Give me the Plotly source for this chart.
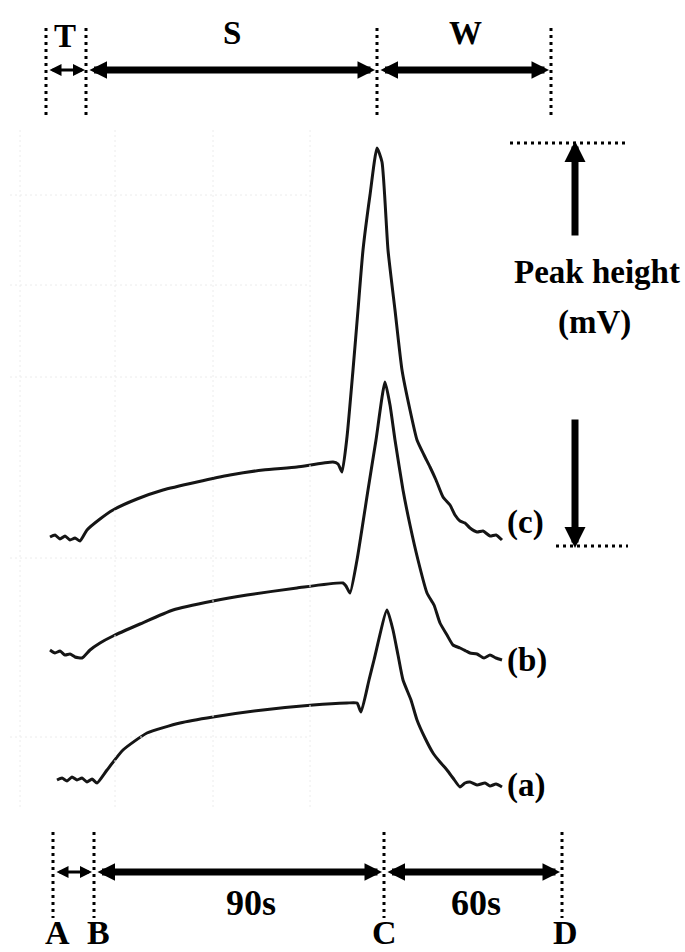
import plotly.graph_objects as go

# ---------------- data (picture coordinates) ----------------
trace_c_x = [50, 55, 60, 65, 70, 75, 80, 87, 100, 113, 137, 163, 197, 230, 263, 297, 333, 338, 342, 347,
             353, 358, 363, 370, 377, 382, 388, 395, 402, 410, 417, 424, 430, 436, 443, 450, 455, 460,
             465, 470, 477, 483, 490, 496, 502]
trace_c_y = [537, 535, 539, 536, 540, 538, 541, 530, 519, 510, 499, 490, 482, 475, 470, 467, 462, 464, 472, 437,
             370, 310, 250, 195, 148, 162, 250, 310, 370, 410, 440, 455, 467, 480, 497, 505, 515, 521,
             523, 528, 532, 531, 536, 535, 540]

trace_b_x = [50, 55, 60, 65, 70, 75, 82, 90, 100, 113, 140, 173, 213, 247, 297, 343, 346, 350, 357, 368,
             376, 385, 390, 395, 403, 410, 418, 427, 434, 440, 447, 453, 460, 466, 470, 477, 484, 490, 496, 502]
trace_b_y = [650, 653, 651, 655, 654, 657, 658, 650, 643, 636, 624, 610, 601, 595, 588, 583, 586, 593, 560, 490,
             440, 382, 405, 440, 490, 525, 560, 593, 605, 623, 635, 645, 648, 651, 653, 654, 658, 655, 658, 660]

trace_a_x = [57, 62, 67, 72, 77, 82, 87, 92, 97, 107, 123, 147, 180, 213, 263, 313, 347, 357, 361, 369,
             374, 387, 393, 398, 403, 411, 417, 425, 433, 440, 447, 453, 460, 465, 470, 477, 485, 490, 496, 502]
trace_a_y = [780, 778, 781, 777, 780, 778, 782, 779, 783, 770, 750, 733, 723, 717, 710, 705, 703, 703, 712, 680,
             660, 610, 630, 655, 680, 700, 720, 738, 753, 762, 770, 778, 787, 783, 782, 785, 783, 786, 784, 787]

trace_labels = ["(c)", "(b)", "(a)"]
phase_labels = ["T", "S", "W"]
time_labels = ["90s", "60s"]
point_labels = ["A", "B", "C", "D"]
peak_label = ["Peak height", "(mV)"]

# ---------------- figure ----------------
INK = "#151515"
FONT = "Liberation Serif, Times New Roman, serif"

fig = go.Figure()
for xs, ys in [(trace_c_x, trace_c_y), (trace_b_x, trace_b_y), (trace_a_x, trace_a_y)]:
    fig.add_trace(go.Scatter(x=xs, y=ys, mode="lines",
                             line=dict(color=INK, width=3, shape="spline", smoothing=0.5),
                             hoverinfo="skip", showlegend=False))

shapes = []
# faint graph-paper lines
for gx in [20, 115, 213, 310]:
    shapes.append(dict(type="line", x0=gx, x1=gx, y0=130, y1=810,
                       line=dict(color="#ececec", width=1, dash="2px,3px")))
for gy in [195, 285, 377, 558, 737]:
    shapes.append(dict(type="line", x0=10, x1=310, y0=gy, y1=gy,
                       line=dict(color="#ececec", width=1, dash="2px,3px")))

dot = dict(color="black", width=3, dash="3px,4px")
for vx in [46, 86, 377, 551]:
    shapes.append(dict(type="line", x0=vx, x1=vx, y0=28, y1=116, line=dot))
for vx in [53, 94, 384, 562]:
    shapes.append(dict(type="line", x0=vx, x1=vx, y0=832, y1=918, line=dot))
shapes.append(dict(type="line", x0=510, x1=628, y0=143, y1=143, line=dot))
shapes.append(dict(type="line", x0=556, x1=628, y0=546, y1=546, line=dot))

annotations = []


def double_arrow(x0, x1, y, w=7, s=0.5):
    annotations.append(dict(x=x1, y=y, ax=x0, ay=y, xref="x", yref="y", axref="x", ayref="y",
                            text="", showarrow=True, arrowside="end+start",
                            arrowhead=2, startarrowhead=2, arrowsize=s, startarrowsize=s,
                            arrowwidth=w, arrowcolor="black", standoff=0, startstandoff=0))


double_arrow(48, 85, 70, w=3, s=0.8)
double_arrow(88, 375, 70)
double_arrow(379, 549, 70)
double_arrow(55, 92, 872, w=3, s=0.8)
double_arrow(96, 382, 872)
double_arrow(386, 560, 872)

# peak-height arrows
annotations.append(dict(x=575, y=141, ax=575, ay=237, xref="x", yref="y", axref="x", ayref="y",
                        text="", showarrow=True, arrowhead=2, arrowsize=0.6, arrowwidth=7,
                        arrowcolor="black", standoff=0))
annotations.append(dict(x=575, y=548, ax=575, ay=418, xref="x", yref="y", axref="x", ayref="y",
                        text="", showarrow=True, arrowhead=2, arrowsize=0.6, arrowwidth=7,
                        arrowcolor="black", standoff=0))


def label(txt, x, y, size, xanchor="center"):
    annotations.append(dict(x=x, y=y, xref="x", yref="y", text=txt, showarrow=False,
                            xanchor=xanchor, yanchor="middle",
                            font=dict(family=FONT, size=size, color="black", weight="bold")))


for txt, x, y in zip(phase_labels, [65, 232, 465], [36, 33, 33]):
    label(txt, x, y, 33)
for txt, x in zip(time_labels, [251, 476]):
    label(txt, x, 903, 36)
for txt, x in zip(point_labels, [57, 98, 384, 565]):
    label(txt, x, 932, 34)
for txt, y in zip(trace_labels, [522, 660, 785]):
    label(txt, 505, y, 33, xanchor="left")
label(peak_label[0], 597, 272, 33)
label(peak_label[1], 594, 322, 33)

fig.update_layout(
    width=685, height=952,
    margin=dict(l=0, r=0, t=0, b=0),
    paper_bgcolor="white", plot_bgcolor="white",
    xaxis=dict(range=[0, 685], visible=False, fixedrange=True),
    yaxis=dict(range=[952, 0], visible=False, fixedrange=True),
    shapes=shapes, annotations=annotations,
    showlegend=False,
)

fig.write_html("out.html", config={"displayModeBar": False},
               post_script="document.body.style.margin='0';")
